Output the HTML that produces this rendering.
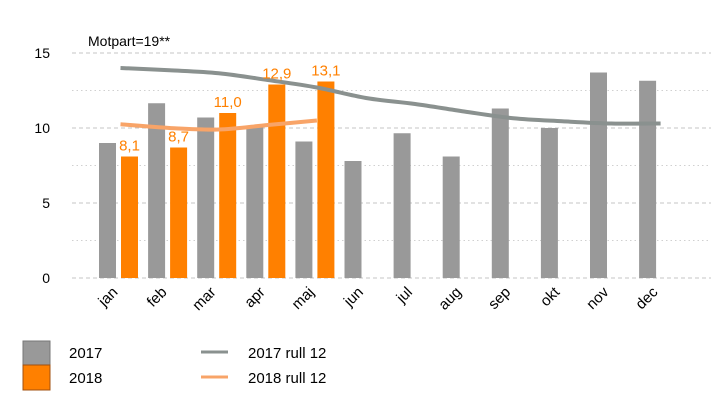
<!DOCTYPE html>
<html><head><meta charset="utf-8"><style>
body{margin:0;background:#fff;}
svg{display:block;font-family:"Liberation Sans",sans-serif;}
</style></head><body>
<svg id="chart" width="727" height="403">
<text x="88" y="46" font-size="14" fill="#000">Motpart=19**</text>
<g id="grid"></g><g id="bars"></g><g id="lines"></g><g id="labels"></g>
<g>
<rect x="23" y="341" width="27" height="24" fill="#999" stroke="#777" stroke-width="1"/>
<rect x="23" y="365" width="27" height="25" fill="#ff8000" stroke="#a05010" stroke-width="1"/>
<text x="69" y="358" font-size="15">2017</text>
<text x="69" y="383" font-size="15">2018</text>
<line x1="201" y1="352" x2="228" y2="352" stroke="#8a918f" stroke-width="3"/>
<line x1="201" y1="377" x2="228" y2="377" stroke="#f8a468" stroke-width="3"/>
<text x="248" y="358" font-size="15">2017 rull 12</text>
<text x="248" y="383" font-size="15">2018 rull 12</text>
</g>
</svg>
<script>
const months=["jan","feb","mar","apr","maj","jun","jul","aug","sep","okt","nov","dec"];
const v2017=[9.0,11.65,10.7,10.1,9.1,7.8,9.65,8.1,11.3,10.0,13.7,13.15];
const v2018=[8.1,8.7,11.0,12.9,13.1];
const labels2018=["8,1","8,7","11,0","12,9","13,1"];
const roll2017=[14.0,13.85,13.65,13.2,12.7,12.0,11.6,11.1,10.65,10.45,10.3,10.3];
const roll2018=[10.25,10.0,9.9,10.2,10.5];
const yTicks=[0,5,10,15];

const NS="http://www.w3.org/2000/svg";
const y0=278,py=15,x0=99,step=49.1,bw=17,gap=5;
const Y=v=>y0-v*py;
const gx=i=>x0+i*step;
const gc=i=>gx(i)+bw+gap/2+2;
function mk(tag,attrs,parent){const e=document.createElementNS(NS,tag);for(const k in attrs)e.setAttribute(k,attrs[k]);document.getElementById(parent).appendChild(e);return e;}

for(let v=0;v<=15;v+=2.5){
  const major=v%5===0;
  const l=mk("line",{x1:72,x2:711,y1:Y(v),y2:Y(v),stroke:major?"#c4c4c4":"#d0d0d0","stroke-width":1,"stroke-dasharray":major?"4,3":"1.5,3"},"grid");
  
  
}
yTicks.forEach(t=>{
  const e=mk("text",{x:50,y:Y(t)+5,"font-size":14,"text-anchor":"end"},"grid");e.textContent=t;
  
  
});
months.forEach((m,i)=>{
  const cx=gx(i)+bw+gap/2;
  const t=mk("text",{x:cx,y:293,"font-size":15,"text-anchor":"end",transform:`rotate(-45 ${cx} 293)`},"labels");
  t.textContent=m;
  
  
});
v2017.forEach((v,i)=>{
  const r=mk("rect",{x:gx(i),y:Y(v),width:bw,height:v*py,fill:"#999"},"bars");
  
  
});
v2018.forEach((v,i)=>{
  const r=mk("rect",{x:gx(i)+bw+gap,y:Y(v),width:bw,height:v*py,fill:"#ff8000"},"bars");
  
  
  const t=mk("text",{x:gx(i)+bw+gap+bw/2,y:Y(v)-6,"font-size":15,fill:"#ff8000","text-anchor":"middle"},"labels");
  t.textContent=labels2018[i];
  
  
});
function smooth(vals){
  const p=vals.map((v,i)=>[gc(i),Y(v)]);
  let d=`M${p[0][0]},${p[0][1]}`;
  for(let i=0;i<p.length-1;i++){
    const a=p[Math.max(0,i-1)],b=p[i],c=p[i+1],e=p[Math.min(p.length-1,i+2)];
    d+=` C${b[0]+(c[0]-a[0])/6},${b[1]+(c[1]-a[1])/6} ${c[0]-(e[0]-b[0])/6},${c[1]-(e[1]-b[1])/6} ${c[0]},${c[1]}`;
  }
  return d;
}
const l1=mk("path",{d:smooth(roll2017),fill:"none",stroke:"#8a918f","stroke-width":4},"lines");


const l2=mk("path",{d:smooth(roll2018),fill:"none",stroke:"#f8a468","stroke-width":4},"lines");


</script>
</body></html>
